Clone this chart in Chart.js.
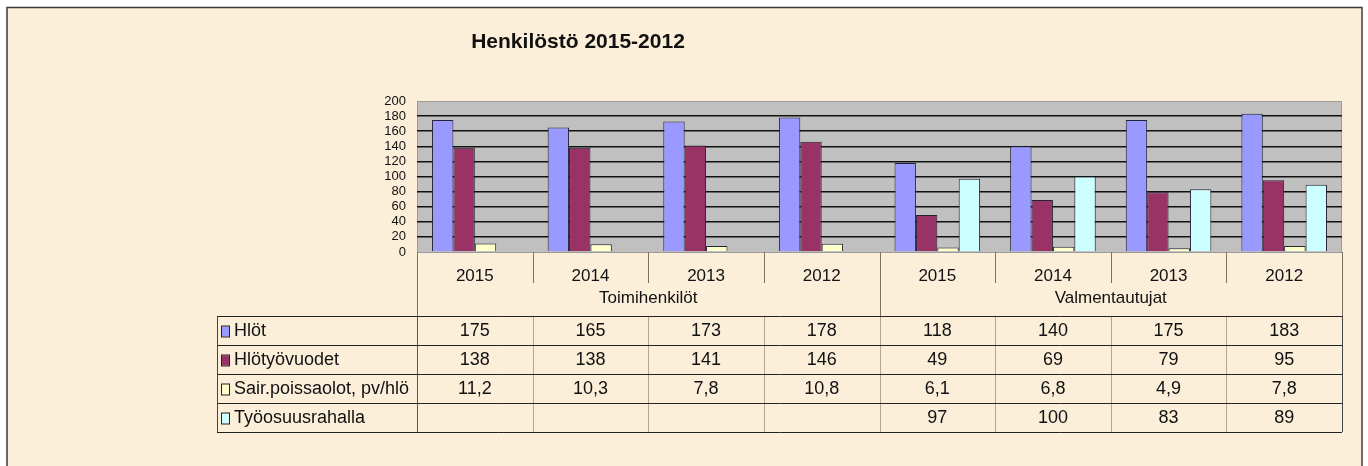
<!DOCTYPE html>
<html>
<head>
<meta charset="utf-8">
<script src="https://cdn.jsdelivr.net/npm/chart.js@4.4.0/dist/chart.umd.min.js"></script>
<style>
  html, body { margin: 0; padding: 0; background: #ffffff; }
  #wrap { width: 1368px; height: 466px; }
</style>
</head>
<body>
<div id="wrap"><canvas id="myChart" width="1368" height="466"></canvas></div>
<script>
var title = 'Henkilöstö 2015-2012';
var years = ['2015', '2014', '2013', '2012', '2015', '2014', '2013', '2012'];
var groups = ['Toimihenkilöt', 'Valmentautujat'];
var groupSize = 4;
var seriesNames = ['Hlöt', 'Hlötyövuodet', 'Sair.poissaolot, pv/hlö', 'Työosuusrahalla'];
var hlot = [175, 165, 173, 178, 118, 140, 175, 183];
var hlotyovuodet = [138, 138, 141, 146, 49, 69, 79, 95];
var sairaus = [11.2, 10.3, 7.8, 10.8, 6.1, 6.8, 4.9, 7.8];
var tyoosuus = [null, null, null, null, 97, 100, 83, 89];
var yMax = 200;
var yStep = 20;

var colors = ['#9999ff', '#993366', '#ffffcc', '#ccffff'];
var allSeries = [hlot, hlotyovuodet, sairaus, tyoosuus];

function fmt(v) {
  if (v === null) return '';
  return String(v).replace('.', ',');
}

var FONT = '"Liberation Sans", Arial, sans-serif';

var decor = {
  id: 'decor',
  beforeDraw: function (chart) {
    var c = chart.ctx, a = chart.chartArea;
    c.save();
    c.fillStyle = '#fbefd9';
    c.fillRect(7, 7, chart.width - 14, chart.height - 7);
    c.strokeStyle = '#3a3a3a';
    c.lineWidth = 1.5;
    c.beginPath();
    c.moveTo(7, chart.height); c.lineTo(7, 7.5); c.lineTo(chart.width - 6, 7.5); c.lineTo(chart.width - 6, chart.height);
    c.stroke();
    c.fillStyle = '#c0c0c0';
    c.fillRect(a.left, a.top, a.right - a.left, a.bottom - a.top);
    c.strokeStyle = '#9a9a9a';
    c.lineWidth = 1;
    c.strokeRect(a.left + 0.5, a.top + 0.5, a.right - a.left - 1, a.bottom - a.top);
    c.restore();
  },
  afterDraw: function (chart) {
    var c = chart.ctx, a = chart.chartArea, xs = chart.scales.x;
    var n = years.length;
    var cw = (a.right - a.left) / n;
    var tableTop = 316, rowH = 29, labelLeft = 217;
    c.save();
    // title
    c.fillStyle = '#111';
    c.font = 'bold 21px ' + FONT;
    c.textAlign = 'center';
    c.textBaseline = 'middle';
    c.fillText(title, 578, 42);

    // category separators under plot
    c.strokeStyle = '#7d7262';
    c.lineWidth = 1;
    for (var i = 0; i <= n; i++) {
      var bx = Math.round(xs.getPixelForValue(i) - cw / 2) + 0.5;
      var isGroup = (i % groupSize === 0);
      c.beginPath();
      c.moveTo(bx, a.bottom);
      c.lineTo(bx, isGroup ? tableTop : a.bottom + 31);
      c.stroke();
    }
    // group labels
    c.fillStyle = '#111';
    c.font = '17px ' + FONT;
    for (var g = 0; g < groups.length; g++) {
      var x0 = xs.getPixelForValue(g * groupSize) - cw / 2;
      var x1 = xs.getPixelForValue(g * groupSize + groupSize - 1) + cw / 2;
      c.fillText(groups[g], (x0 + x1) / 2, 298);
    }

    // data table
    var rows = seriesNames.length;
    var tableBottom = tableTop + rows * rowH;
    c.strokeStyle = '#b0a694';
    for (i = 1; i < n; i++) {
      bx = Math.round(xs.getPixelForValue(i) - cw / 2) + 0.5;
      c.beginPath(); c.moveTo(bx, tableTop); c.lineTo(bx, tableBottom); c.stroke();
    }
    c.strokeStyle = '#555';
    var colLeft = Math.round(a.left) + 0.5;
    c.beginPath(); c.moveTo(colLeft, tableTop); c.lineTo(colLeft, tableBottom); c.stroke();
    c.strokeStyle = '#222';
    for (var r = 0; r <= rows; r++) {
      var ly = tableTop + r * rowH + 0.5;
      c.beginPath(); c.moveTo(labelLeft, ly); c.lineTo(a.right, ly); c.stroke();
    }
    c.strokeStyle = '#444';
    c.beginPath(); c.moveTo(labelLeft + 0.5, tableTop); c.lineTo(labelLeft + 0.5, tableBottom); c.stroke();
    c.beginPath(); c.moveTo(Math.round(a.right) + 0.5, tableTop); c.lineTo(Math.round(a.right) + 0.5, tableBottom); c.stroke();

    c.font = '18px ' + FONT;
    for (r = 0; r < rows; r++) {
      var cy = tableTop + r * rowH + rowH / 2 + 1;
      c.fillStyle = colors[r];
      c.fillRect(222, cy - 5, 7, 10);
      c.strokeStyle = '#222';
      c.lineWidth = 1;
      c.strokeRect(221.5, cy - 5.5, 8, 11);
      c.fillStyle = '#111';
      c.textAlign = 'left';
      c.fillText(seriesNames[r], 234, cy);
      c.textAlign = 'center';
      for (i = 0; i < n; i++) {
        c.fillText(fmt(allSeries[r][i]), xs.getPixelForValue(i), cy);
      }
    }
    c.restore();
  }
};

var ctx = document.getElementById('myChart');
var myChart = new Chart(ctx, {
  type: 'bar',
  data: {
    labels: years,
    datasets: seriesNames.map(function (name, k) {
      return {
        label: name,
        data: allSeries[k],
        backgroundColor: colors[k],
        borderColor: '#222233',
        borderWidth: 1,
        borderSkipped: 'bottom',
        categoryPercentage: 0.74,
        barPercentage: 1.0
      };
    })
  },
  options: {
    responsive: false,
    devicePixelRatio: 1,
    animation: false,
    layout: { padding: { left: 380, top: 101, right: 26, bottom: 150 } },
    plugins: {
      legend: { display: false },
      title: { display: false },
      tooltip: { enabled: false }
    },
    scales: {
      x: {
        grid: { display: false },
        border: { display: false },
        ticks: { color: '#111', font: { family: FONT, size: 17 }, padding: 6, maxRotation: 0 },
        afterFit: function (s) { s.height = 64; }
      },
      y: {
        min: 0,
        max: yMax,
        ticks: { stepSize: yStep, autoSkip: false, color: '#111', font: { family: FONT, size: 13 }, padding: 11 },
        grid: {
          drawTicks: false,
          color: function (c) { return (c.tick.value === 0 || c.tick.value === yMax) ? 'rgba(0,0,0,0)' : '#111'; },
          lineWidth: 1.5
        },
        border: { display: false },
        afterFit: function (s) { s.width = 37; }
      }
    }
  },
  plugins: [decor]
});
</script>
</body>
</html>
